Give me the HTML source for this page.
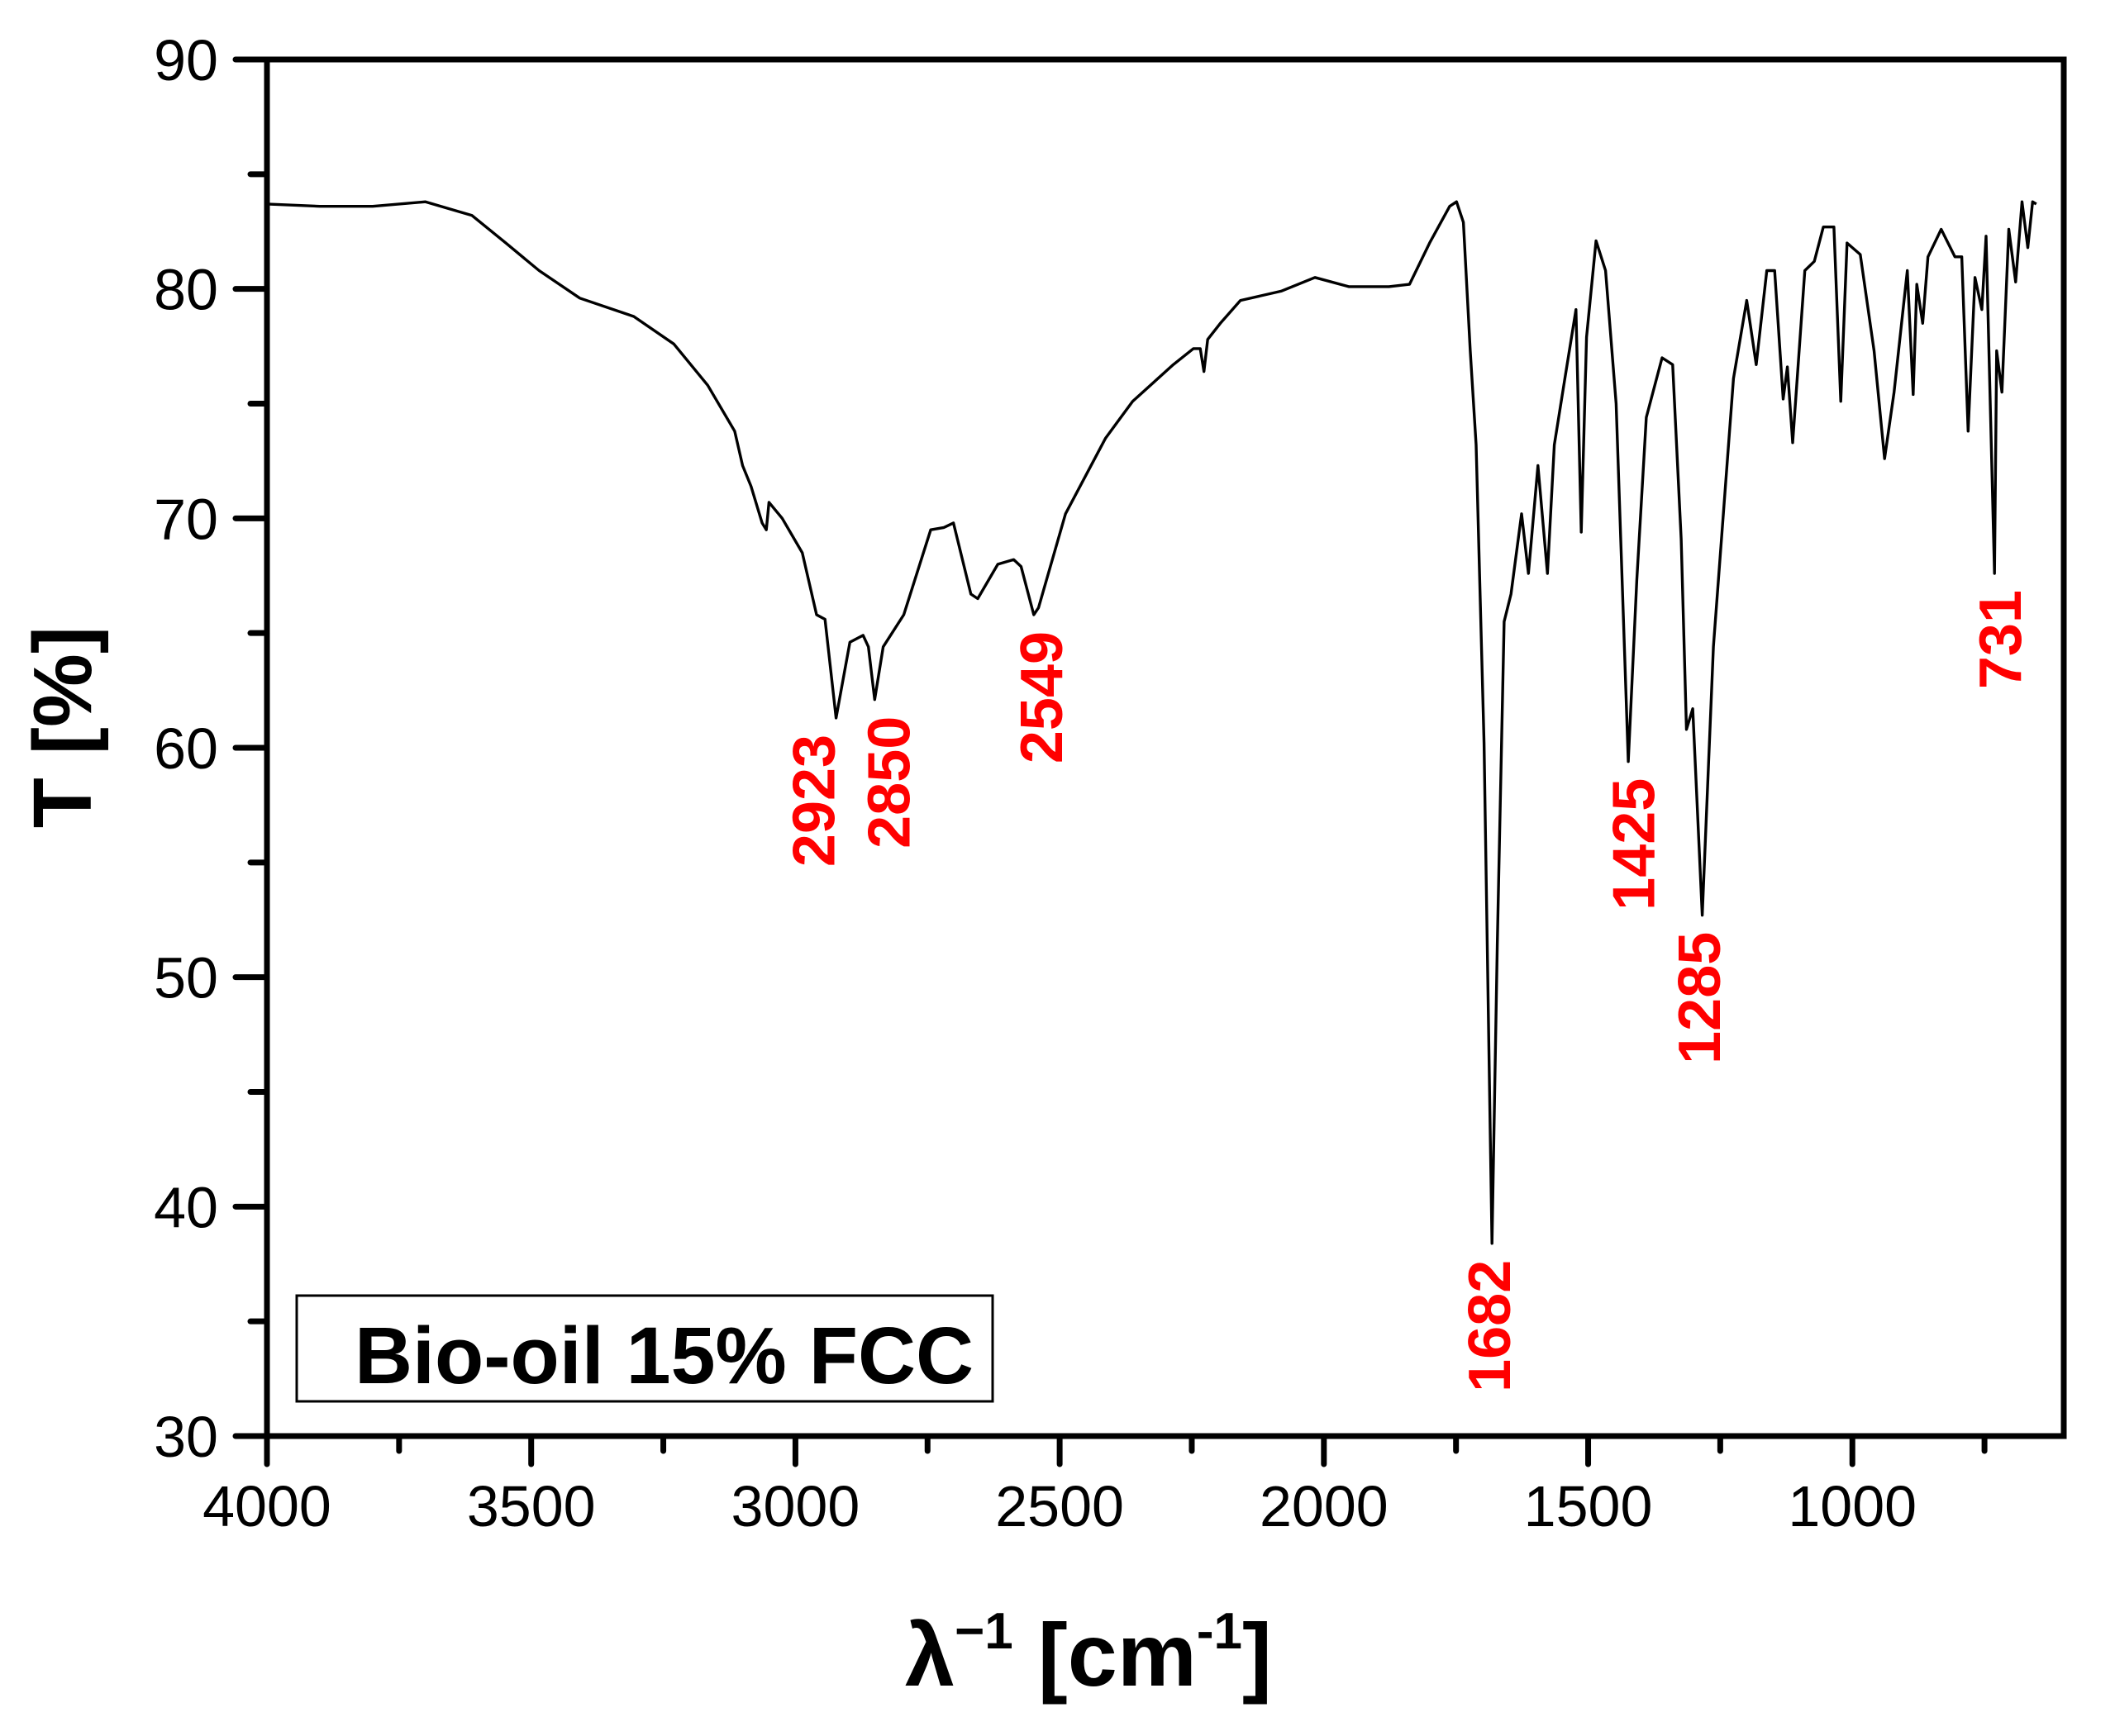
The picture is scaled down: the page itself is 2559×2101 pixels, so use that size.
<!DOCTYPE html>
<html><head><meta charset="utf-8"><style>
html,body{margin:0;padding:0;background:#fff;}
svg{display:block;font-family:"Liberation Sans",Arial,sans-serif;}
</style></head><body>
<svg id="chart" width="2559" height="2101" viewBox="0 0 2559 2101" xmlns="http://www.w3.org/2000/svg">
<g id="ticks"></g>
<g id="labels"></g>
<path id="spectrum" fill="none" stroke="#000" stroke-width="3.4" stroke-linejoin="round"/>
<rect x="323" y="72" width="2174" height="1666" fill="none" stroke="#000" stroke-width="7"/>
<rect x="359" y="1568" width="842" height="128" fill="#fff" stroke="#000" stroke-width="3"/>
<text x="429" y="1674" font-size="97" font-weight="bold">Bio-oil 15% FCC</text>
<g id="peaks"></g>
<text x="1095" y="2040" font-size="108" font-weight="bold">λ<tspan font-size="62" dy="-45">−1</tspan><tspan dy="45"> [cm</tspan><tspan font-size="62" dy="-45">-1</tspan><tspan dy="45">]</tspan></text>
<text transform="translate(110,880) rotate(-90)" text-anchor="middle" font-size="100" font-weight="bold">T [%]</text>
</svg>
<script>
const wn=[4000,3900,3800,3700,3612,3548,3485,3408,3306,3230,3166,3115,3100,3084,3063,3055,3050,3025,2987,2960,2944,2923,2897,2872,2862,2850,2834,2795,2744,2719,2701,2668,2655,2617,2587,2573,2549,2540,2489,2413,2362,2285,2247,2234,2227,2220,2196,2158,2081,2017,1953,1877,1838,1800,1762,1749,1736,1723,1712,1697,1682,1672,1659,1646,1626,1613,1595,1577,1564,1544,1523,1513,1503,1485,1467,1447,1424,1408,1390,1360,1340,1324,1314,1302,1284,1263,1225,1200,1182,1162,1147,1131,1123,1113,1090,1072,1055,1035,1022,1010,985,959,939,921,896,885,878,867,857,832,806,793,781,768,755,747,731,727,717,704,691,679,668,659,652];
const tr=[83.7,83.6,83.6,83.8,83.2,82.0,80.8,79.6,78.8,77.6,75.8,73.8,72.3,71.4,69.8,69.5,70.7,70.0,68.5,65.8,65.6,61.3,64.6,64.9,64.4,62.1,64.4,65.8,69.5,69.6,69.8,66.7,66.5,68.0,68.2,67.9,65.8,66.1,70.2,73.5,75.1,76.7,77.4,77.4,76.4,77.8,78.5,79.5,79.9,80.5,80.1,80.1,80.2,82.0,83.6,83.8,82.9,77.3,73.2,60.2,38.4,51.4,65.5,66.7,70.2,67.6,72.3,67.6,73.2,76.1,79.1,69.4,77.9,82.1,80.8,75.0,59.4,67.3,74.4,77.0,76.7,69.1,60.8,61.7,52.7,64.4,76.1,79.5,76.7,80.8,80.8,75.2,76.6,73.3,80.8,81.2,82.7,82.7,75.1,82.0,81.5,77.3,72.6,75.5,80.8,75.4,80.2,78.5,81.4,82.6,81.4,81.4,73.8,80.5,79.1,82.3,67.6,77.3,75.5,82.6,80.3,83.8,81.8,83.8,83.7];
const xTicks=[4000,3500,3000,2500,2000,1500,1000];
const xMinor=[3750,3250,2750,2250,1750,1250,750];
const yTicks=[30,40,50,60,70,80,90];
const yMinor=[35,45,55,65,75,85];
const peakWn=[2923,2850,2549,1682,1425,1285,731];
const peakLabels=["2923","2850","2549","1682","1425","1285","731"];
const peakT=[61.3,62.1,65.8,38.4,59.4,52.7,67.6];
const labelDx=[-24,20,12,0,10,0,10];

const X0=323,X1=2497,Y0=72,Y1=1738,XMAX=4000,XMIN=600,YMIN=30,YMAX=90;
function sx(v){return X0+(XMAX-v)/(XMAX-XMIN)*(X1-X0);}
function sy(t){return Y1-(t-YMIN)/(YMAX-YMIN)*(Y1-Y0);}
const NS='http://www.w3.org/2000/svg';
function mk(tag,attrs,parent){const e=document.createElementNS(NS,tag);for(const k in attrs)e.setAttribute(k,attrs[k]);parent.appendChild(e);return e;}
let d='';wn.forEach((v,i)=>{d+=(i?'L':'M')+sx(v).toFixed(1)+','+sy(tr[i]).toFixed(1);});
document.getElementById('spectrum').setAttribute('d',d);
const tg=document.getElementById('ticks'),lg=document.getElementById('labels'),pg=document.getElementById('peaks');
xTicks.forEach(v=>{
 const l=mk('line',{x1:sx(v),x2:sx(v),y1:Y1,y2:Y1+34,stroke:'#000','stroke-width':7,'stroke-linecap':'round'},tg);
 
 
 const t=mk('text',{x:sx(v),y:1847,'text-anchor':'middle','font-size':70},lg);t.textContent=v;
 
 
});
xMinor.forEach(v=>{
 const l=mk('line',{x1:sx(v),x2:sx(v),y1:Y1,y2:Y1+18,stroke:'#000','stroke-width':7,'stroke-linecap':'round'},tg);
 
 
});
yTicks.forEach(v=>{
 const l=mk('line',{x1:X0-38,x2:X0,y1:sy(v),y2:sy(v),stroke:'#000','stroke-width':7,'stroke-linecap':'round'},tg);
 
 
 const t=mk('text',{x:264,y:sy(v)+25,'text-anchor':'end','font-size':70},lg);t.textContent=v;
 
 
});
yMinor.forEach(v=>{
 const l=mk('line',{x1:X0-20,x2:X0,y1:sy(v),y2:sy(v),stroke:'#000','stroke-width':7,'stroke-linecap':'round'},tg);
 
 
});
peakWn.forEach((v,i)=>{
 const x=sx(v)+labelDx[i]+22, y=sy(peakT[i])+20;
 const t=mk('text',{transform:'translate('+x+','+y+') rotate(-90)','text-anchor':'end','font-size':72,'font-weight':'bold',fill:'#ff0000'},pg);
 t.textContent=peakLabels[i];
 
 
});
</script>
</body></html>
